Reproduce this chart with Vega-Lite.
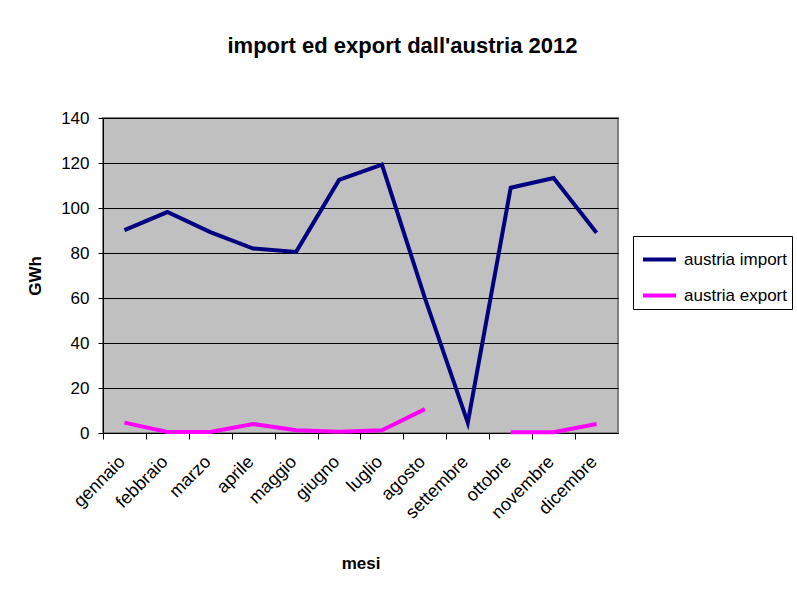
{
  "$schema": "https://vega.github.io/schema/vega-lite/v6.json",
  "width": 515,
  "height": 315,
  "autosize": {"type": "none"},
  "padding": {"left": 103, "top": 118, "right": 179, "bottom": 164},
  "background": "white",
  "title": {
    "text": "import ed export dall'austria 2012",
    "font": "Liberation Sans",
    "fontSize": 22,
    "fontWeight": "bold",
    "color": "black",
    "anchor": "middle",
    "dx": 42,
    "offset": 51
  },
  "data": {
    "values": [
      {"mese": "gennaio", "serie": "austria import", "tratto": "i", "valore": 90.2},
      {"mese": "febbraio", "serie": "austria import", "tratto": "i", "valore": 98.2},
      {"mese": "marzo", "serie": "austria import", "tratto": "i", "valore": 89.3},
      {"mese": "aprile", "serie": "austria import", "tratto": "i", "valore": 82},
      {"mese": "maggio", "serie": "austria import", "tratto": "i", "valore": 80.5},
      {"mese": "giugno", "serie": "austria import", "tratto": "i", "valore": 112.5},
      {"mese": "luglio", "serie": "austria import", "tratto": "i", "valore": 119.3},
      {"mese": "agosto", "serie": "austria import", "tratto": "i", "valore": 60},
      {"mese": "settembre", "serie": "austria import", "tratto": "i", "valore": 4.6},
      {"mese": "ottobre", "serie": "austria import", "tratto": "i", "valore": 109},
      {"mese": "novembre", "serie": "austria import", "tratto": "i", "valore": 113.3},
      {"mese": "dicembre", "serie": "austria import", "tratto": "i", "valore": 89},
      {"mese": "gennaio", "serie": "austria export", "tratto": "e1", "valore": 4.6},
      {"mese": "febbraio", "serie": "austria export", "tratto": "e1", "valore": 0.5},
      {"mese": "marzo", "serie": "austria export", "tratto": "e1", "valore": 0.5},
      {"mese": "aprile", "serie": "austria export", "tratto": "e1", "valore": 4},
      {"mese": "maggio", "serie": "austria export", "tratto": "e1", "valore": 1.2},
      {"mese": "giugno", "serie": "austria export", "tratto": "e1", "valore": 0.6},
      {"mese": "luglio", "serie": "austria export", "tratto": "e1", "valore": 1.2},
      {"mese": "agosto", "serie": "austria export", "tratto": "e1", "valore": 10.6},
      {"mese": "ottobre", "serie": "austria export", "tratto": "e2", "valore": 0.3},
      {"mese": "novembre", "serie": "austria export", "tratto": "e2", "valore": 0.3},
      {"mese": "dicembre", "serie": "austria export", "tratto": "e2", "valore": 4}
    ]
  },
  "mark": {"type": "line", "strokeWidth": 4},
  "encoding": {
    "x": {
      "field": "mese",
      "type": "nominal",
      "sort": ["gennaio", "febbraio", "marzo", "aprile", "maggio", "giugno", "luglio", "agosto", "settembre", "ottobre", "novembre", "dicembre"],
      "scale": {"type": "point", "padding": 0.5},
      "axis": {
        "title": "mesi",
        "titleFont": "Liberation Sans",
        "titleFontSize": 17,
        "titleFontWeight": "bold",
        "titleColor": "black",
        "titlePadding": 34,
        "labelAngle": -45,
        "labelAlign": "right",
        "labelBaseline": "middle",
        "labelFont": "Liberation Sans",
        "labelFontSize": 18,
        "labelColor": "black",
        "labelPadding": 20,
        "labelOffset": 19,
        "ticks": true,
        "tickOffset": -21.46,
        "tickSize": 6,
        "tickColor": "black",
        "tickWidth": 1,
        "domainColor": "black",
        "domainWidth": 1,
        "grid": false
      }
    },
    "y": {
      "field": "valore",
      "type": "quantitative",
      "scale": {"domain": [0, 140], "nice": false},
      "axis": {
        "title": "GWh",
        "titleFont": "Liberation Sans",
        "titleFontSize": 17,
        "titleFontWeight": "bold",
        "titleColor": "black",
        "titlePadding": 16,
        "values": [0, 20, 40, 60, 80, 100, 120, 140],
        "labelFont": "Liberation Sans",
        "labelFontSize": 17,
        "labelColor": "black",
        "labelPadding": 9,
        "tickSize": 5,
        "tickColor": "black",
        "domainColor": "black",
        "grid": true,
        "gridColor": "black",
        "gridWidth": 1,
        "gridOpacity": 1
      }
    },
    "detail": {"field": "tratto", "type": "nominal"},
    "color": {
      "field": "serie",
      "type": "nominal",
      "scale": {"domain": ["austria import", "austria export"], "range": ["#000080", "#FF00FF"]},
      "legend": {
        "title": null,
        "orient": "none",
        "legendX": 530,
        "legendY": 118,
        "symbolType": "stroke",
        "symbolSize": 1089,
        "symbolStrokeWidth": 4,
        "symbolOffset": 3,
        "labelOffset": 6,
        "labelFont": "Liberation Sans",
        "labelFontSize": 17,
        "labelColor": "black",
        "padding": 5,
        "rowPadding": 9,
        "strokeColor": "black",
        "fillColor": "white"
      }
    }
  },
  "config": {
    "view": {"fill": "#C0C0C0", "stroke": "#808080", "strokeWidth": 2}
  }
}
